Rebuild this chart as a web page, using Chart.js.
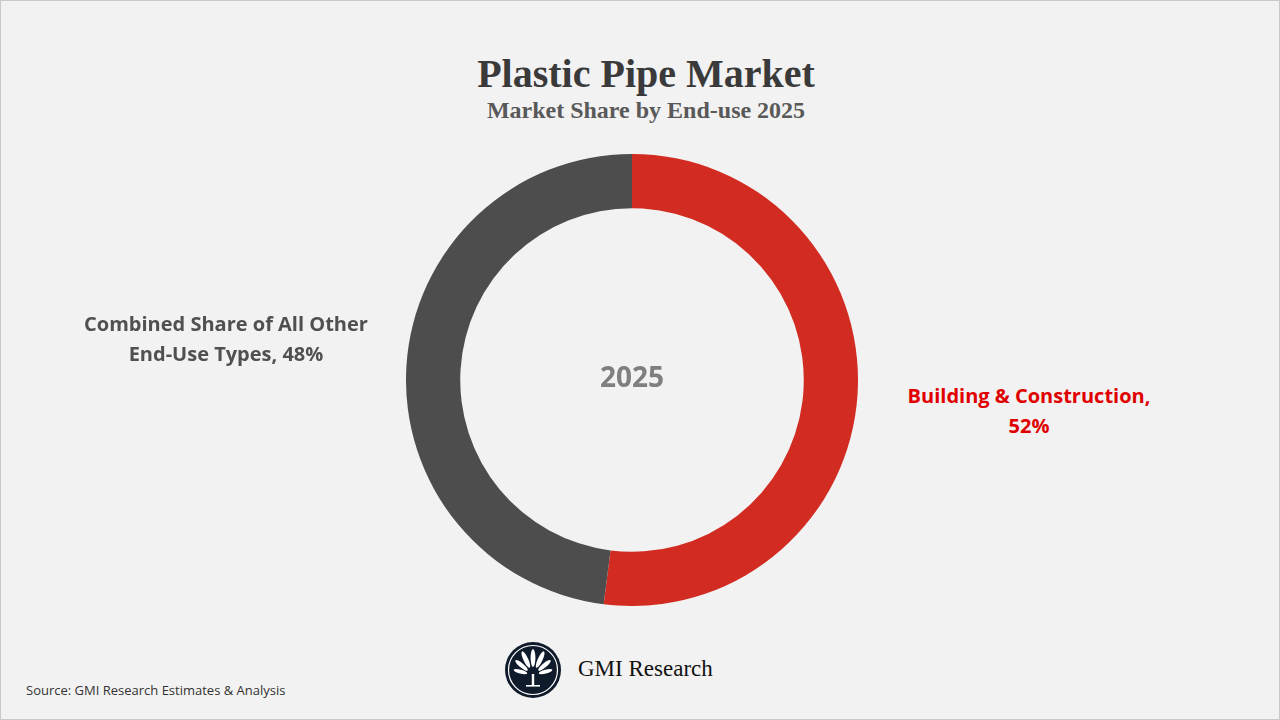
<!DOCTYPE html>
<html>
<head>
<meta charset="utf-8">
<script src="https://cdn.jsdelivr.net/npm/chart.js@4"></script>
<style>
  body { margin: 0; background: #fff; }
  #page { position: relative; width: 1278px; height: 718px; background: #f2f2f2; border: 1px solid #c8c8c8; font-family: "Open Sans", sans-serif; overflow: hidden; }
  .t { position: absolute; text-align: center; }
  #title { left: 345px; width: 600px; top: 49px; font: bold 40px "Liberation Serif", serif; color: #3a3a3a; }
  #sub { left: 345px; width: 600px; top: 96px; font: bold 24px "Liberation Serif", serif; color: #595959; }
  #wrap { position: absolute; left: 405px; top: 153px; width: 452px; height: 452px; }
  #center { left: 531px; width: 200px; top: 356px; font: bold 28px "Open Sans", sans-serif; color: #7f7f7f; }
  #lblL { left: 5px; width: 440px; top: 308px; font: bold 20px "Open Sans", sans-serif; color: #505050; line-height: 30px; }
  #lblR { left: 878px; width: 300px; top: 380px; font: bold 20px "Open Sans", sans-serif; color: #e00000; line-height: 30px; }
  #src { position: absolute; left: 25px; top: 680px; font: 13px "Open Sans", sans-serif; color: #333; }
  #logo { position: absolute; left: 503px; top: 640px; }
  #gmi { position: absolute; left: 577px; top: 655px; font: 23px "Liberation Serif", serif; color: #111; }
</style>
</head>
<body>
<div id="page">
  <div class="t" id="title">Plastic Pipe Market</div>
  <div class="t" id="sub">Market Share by End-use 2025</div>
  <div id="wrap"><canvas id="chart"></canvas></div>
  <div class="t" id="center">2025</div>
  <div class="t" id="lblL">Combined Share of All Other<br>End-Use Types, 48%</div>
  <div class="t" id="lblR">Building &amp; Construction,<br>52%</div>
  <svg id="logo" width="58" height="58" viewBox="0 0 58 58">
    <circle cx="29" cy="29" r="28" fill="#0f1a2b"/>
    <circle cx="29" cy="29" r="24.5" fill="none" stroke="#fff" stroke-width="1.2"/>
    <g fill="#fff">
      <ellipse cx="29" cy="17" rx="2.4" ry="9"/>
      <ellipse cx="29" cy="17" rx="2.4" ry="9" transform="rotate(-25 29 34)"/>
      <ellipse cx="29" cy="17" rx="2.4" ry="9" transform="rotate(25 29 34)"/>
      <ellipse cx="29" cy="19" rx="2.2" ry="8" transform="rotate(-50 29 34)"/>
      <ellipse cx="29" cy="19" rx="2.2" ry="8" transform="rotate(50 29 34)"/>
      <ellipse cx="29" cy="21" rx="2" ry="7" transform="rotate(-75 29 34)"/>
      <ellipse cx="29" cy="21" rx="2" ry="7" transform="rotate(75 29 34)"/>
      <rect x="27.8" y="33" width="2.4" height="12"/>
      <rect x="22" y="44" width="14" height="1.6"/>
    </g>
  </svg>
  <div id="gmi">GMI Research</div>
  <div id="src">Source: GMI Research Estimates &amp; Analysis</div>
</div>
<script>
const categories = ["Building & Construction", "Combined Share of All Other End-Use Types"];
const shares = [52, 48];
const colors = ["#d22b22", "#4d4d4d"];

new Chart(document.getElementById('chart').getContext('2d'), {
  type: 'doughnut',
  data: {
    labels: categories,
    datasets: [{ data: shares, backgroundColor: colors, borderWidth: 0 }]
  },
  options: {
    responsive: true,
    maintainAspectRatio: false,
    animation: false,
    cutout: '76%',
    plugins: { legend: { display: false }, tooltip: { enabled: false } }
  }
});
</script>
</body>
</html>
